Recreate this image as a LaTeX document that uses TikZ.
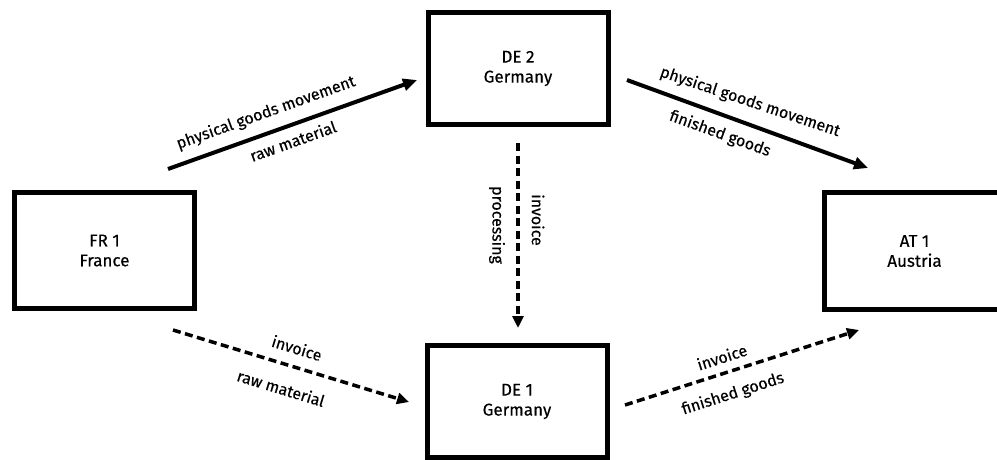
\documentclass[tikz,border=0pt]{standalone}
\usepackage{fontspec}
\setmainfont{Fira Sans}[FakeBold=0.4]
\newfontfamily\diagfont{Fira Sans}[FakeBold=0.4]
\usetikzlibrary{arrows.meta}
\begin{document}
\begin{tikzpicture}[x=1pt,y=-1pt,
  box/.style={draw=black, line width=5pt, fill=white, inner sep=0pt, align=center,
    font=\diagfont\fontsize{17}{20}\selectfont, minimum width=180pt, minimum height=#1},
  lbl/.style={inner sep=0pt, font=\diagfont\fontsize{16}{18}\selectfont},
  flow/.style={line width=4pt, -{Triangle[length=14pt,width=12pt]}},
  docflow/.style={line width=3.5pt, dash pattern=on 8pt off 4.5pt, -{Triangle[length=12pt,width=11pt]}}]
\useasboundingbox (0,0) rectangle (997,459);
\clip (0,0) rectangle (997,459);
\fill[white] (0,0) rectangle (997,459);
% boxes
\node[box=116pt] (fr)  at (104.5,250.5) {FR 1\\France};
\node[box=112pt] (de2) at (518,68.5)    {DE 2\\Germany};
\node[box=112pt] (de1) at (517,401.5)   {DE 1\\Germany};
\node[box=117pt] (at)  at (914.5,251)   {AT 1\\Austria};
% connector end points
\coordinate (a1s) at (168,169);  \coordinate (a1e) at (417,80);
\coordinate (a2s) at (627,80);   \coordinate (a2e) at (868,168);
\coordinate (vs)  at (518,143);  \coordinate (ve)  at (518,328);
\coordinate (d1s) at (173,330);  \coordinate (d1e) at (409,402);
\coordinate (d2s) at (625,405);  \coordinate (d2e) at (859,330);
% connectors
\draw[flow] (a1s) -- (a1e);
\draw[flow] (a2s) -- (a2e);
\draw[docflow] (vs) -- (ve);
\draw[docflow] (d1s) -- (d1e);
\draw[docflow] (d2s) -- (d2e);
% labels
\node[lbl, rotate=19.7]  (l1) at (266,113) {physical goods movement};
\node[lbl, rotate=19.7]  (l2) at (293,141) {raw material};
\node[lbl, rotate=-18.6] (l3) at (750,102) {physical goods movement};
\node[lbl, rotate=-20]   (l4) at (720,134) {finished goods};
\node[lbl, rotate=-90]   (l5) at (538,220) {invoice};
\node[lbl, rotate=-90]   (l6) at (497,225) {processing};
\node[lbl, rotate=-17]   (l7) at (297,348) {invoice};
\node[lbl, rotate=-17]   (l8) at (281,388) {raw material};
\node[lbl, rotate=17.8]  (l9) at (722,357) {invoice};
\node[lbl, rotate=17.8]  (l10) at (733,394) {finished goods};
\end{tikzpicture}
\end{document}
